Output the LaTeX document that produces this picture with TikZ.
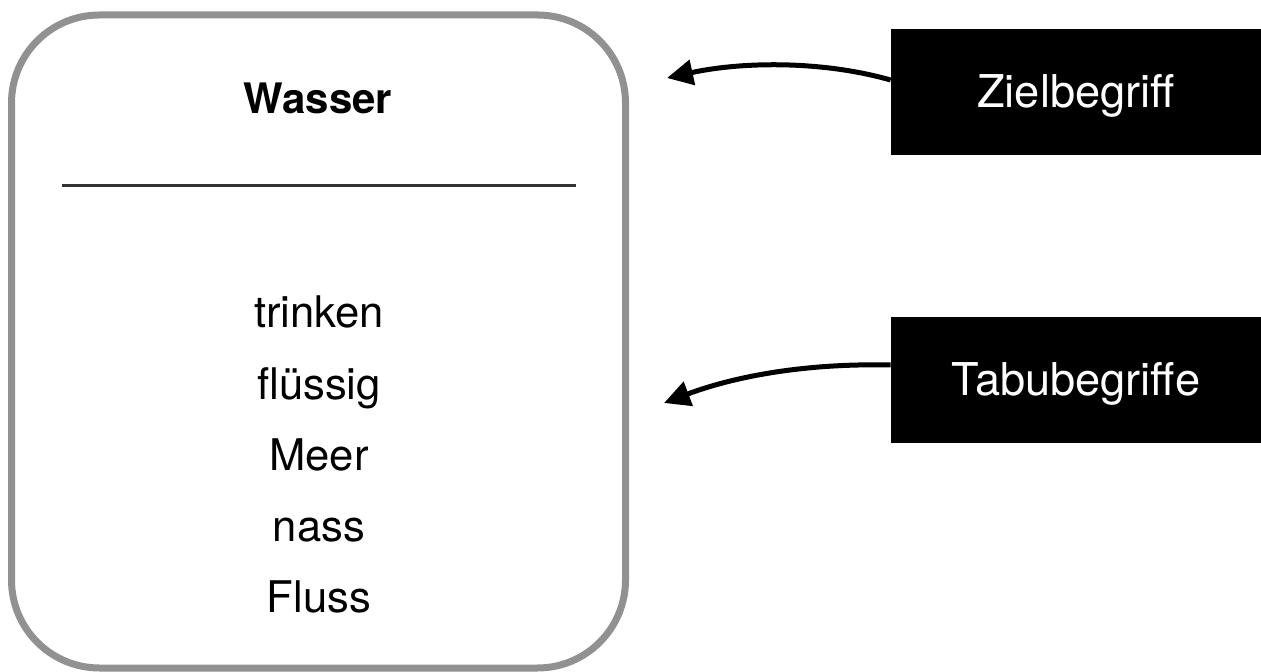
\documentclass[tikz,border=0pt]{standalone}
\usepackage{fontspec}
\setmainfont{TeX Gyre Heros}
\usetikzlibrary{arrows.meta}
\definecolor{kartengrau}{HTML}{919191}
\tikzset{
	karte/.style={draw=kartengrau,line width=3.5pt,rounded corners=44pt},
	wort/.style={anchor=base,font=\fontsize{21.8pt}{25pt}\selectfont},
	schwarzbox/.style={fill=black,text=white,minimum width=185pt,minimum height=63pt,
		text height=15.5pt,text depth=0pt,font=\fontsize{22.6pt}{26pt}\selectfont},
	pfeil/.style={line width=2.5pt,-{Triangle[length=13pt,width=12.5pt]}}
}
\begin{document}
\begin{tikzpicture}
			\begin{scope}[x={0.5pt},y={-0.5pt}]
				\useasboundingbox (0,0) rectangle (1261,672);

				\draw[karte] (11.5,15) rectangle (625.5,668); % card

				\node[wort,font=\fontsize{21pt}{25pt}\selectfont\bfseries] (wasser) at (318,114) {Wasser};
				\draw[line width=1.5pt,black!80] (62,186)--(576,186); % separator

				\foreach \wort [count=\i] in {trinken,flüssig,Meer,nass,Fluss}
					\node[wort] (tabu\i) at (319,{328+71.2*(\i-1)}) {\wort};

				\node[schwarzbox] (zielbox) at (1076,92) {Zielbegriff};
				\node[schwarzbox] (tabubox) at (1076,380) {Tabubegriffe};

				\coordinate (zielspitze) at (667,78);
				\coordinate (tabuspitze) at (664,403);

				\draw[pfeil] ([yshift=6pt]zielbox.west) .. controls (820,60) and (740,62) .. (zielspitze); % target arrow
				\draw[pfeil] ([yshift=7.5pt]tabubox.west) .. controls (800,363) and (730,378) .. (tabuspitze); % taboo arrow
			\end{scope}
		\end{tikzpicture}
\end{document}
